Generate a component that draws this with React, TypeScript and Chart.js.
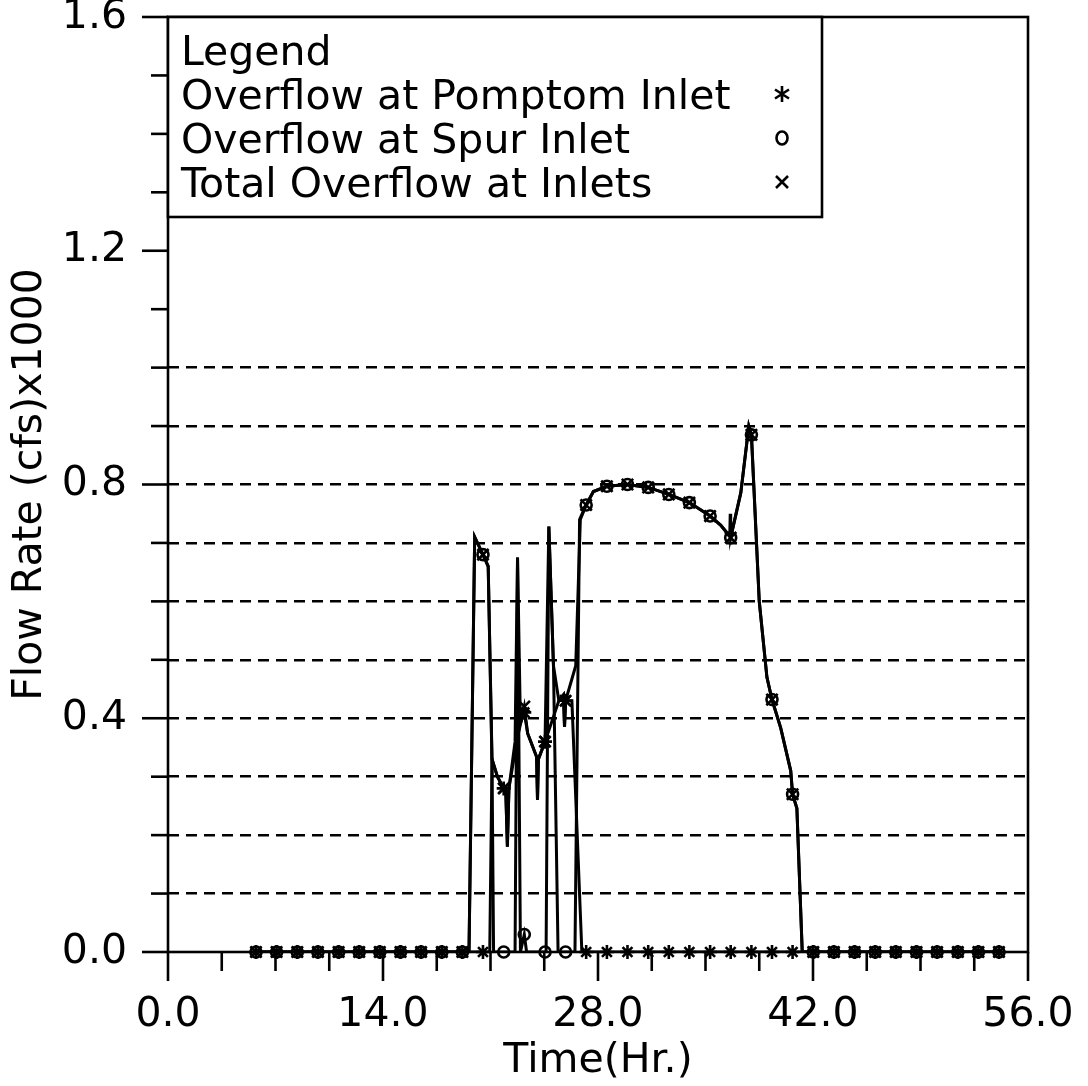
import React, { useEffect, useRef } from 'react';
import { Chart, registerables } from 'chart.js';

Chart.register(...registerables);

const FONT = '"DejaVu Sans ExtraLight", "DejaVu Sans", "Liberation Sans", sans-serif';

// Axes
const xMin = 0;
const xMax = 56;
const xStep = 3.5;
const xLabelEvery = 14;
const yMin = 0;
const yMax = 1.6;
const yStep = 0.1;
const yLabelEvery = 0.4;
const gridFrom = 0.1;
const gridTo = 1.0;
const xTitle = 'Time(Hr.)';
const yTitle = 'Flow Rate (cfs)x1000';

// Legend
const legendTitle = 'Legend';
const seriesNames = ['Overflow at Pomptom Inlet', 'Overflow at Spur Inlet', 'Total Overflow at Inlets'];

// Marker positions (hours) and marker values (cfs x1000)
const markerTimes = [5.73, 7.07, 8.42, 9.76, 11.11, 12.45, 13.79, 15.14, 16.48, 17.83, 19.17, 20.51, 21.86, 23.2, 24.55, 25.89, 27.23, 28.58, 29.92, 31.27, 32.61, 33.95, 35.3, 36.64, 37.99, 39.33, 40.67, 42.02, 43.36, 44.71, 46.05, 47.39, 48.74, 50.08, 51.43, 52.77, 54.11];
const pomptomMarkers = [0, 0, 0, 0, 0, 0, 0, 0, 0, 0, 0, 0, 0.28, 0.41, 0.36, 0.43, 0, 0, 0, 0, 0, 0, 0, 0, 0, 0, 0, 0, 0, 0, 0, 0, 0, 0, 0, 0, 0];
const spurMarkers = [0, 0, 0, 0, 0, 0, 0, 0, 0, 0, 0, 0.68, 0, 0.03, 0, 0, 0.765, 0.797, 0.8, 0.795, 0.783, 0.769, 0.746, 0.709, 0.885, 0.432, 0.27, 0, 0, 0, 0, 0, 0, 0, 0, 0, 0];
const totalMarkers = [0, 0, 0, 0, 0, 0, 0, 0, 0, 0, 0, 0.68, 0.28, 0.42, 0.36, 0.43, 0.765, 0.797, 0.8, 0.795, 0.783, 0.769, 0.746, 0.709, 0.885, 0.432, 0.27, 0, 0, 0, 0, 0, 0, 0, 0, 0, 0];

// Line vertices
const pomptomLineTimes = [5.73, 20.95, 21.1, 21.45, 21.86, 22.0, 22.1, 22.2, 22.88, 23.2, 23.42, 24.0, 24.06, 24.12, 24.55, 25.45, 25.75, 25.82, 25.89, 26.3, 26.95, 54.11];
const pomptomLineValues = [0, 0, 0.33, 0.3, 0.28, 0.27, 0.18, 0.28, 0.386, 0.41, 0.374, 0.334, 0.26, 0.33, 0.36, 0.43, 0.44, 0.385, 0.43, 0.43, 0, 0];

const spurLineTimes = [5.73, 19.6, 19.97, 20.51, 20.85, 21.1, 21.2, 22.6, 22.76, 22.95, 23.2, 23.35, 24.62, 24.8, 25.1, 25.4, 26.5, 26.8, 27.23, 27.7, 28.58, 29.92, 31.27, 32.61, 33.95, 35.3, 36.0, 36.58, 36.61, 36.64, 37.3, 37.82, 37.99, 38.5, 39.0, 39.33, 39.9, 40.55, 40.67, 40.95, 41.3, 54.11];
const spurLineValues = [0, 0, 0.71, 0.68, 0.66, 0.32, 0, 0, 0.675, 0, 0.03, 0, 0, 0.728, 0.49, 0, 0, 0.74, 0.765, 0.788, 0.797, 0.8, 0.795, 0.783, 0.769, 0.746, 0.73, 0.712, 0.75, 0.709, 0.786, 0.9, 0.885, 0.6, 0.47, 0.432, 0.383, 0.31, 0.27, 0.246, 0, 0];

const totalLineTimes = [5.73, 19.6, 19.97, 20.51, 20.85, 21.1, 21.45, 21.86, 22.0, 22.1, 22.2, 22.6, 22.76, 22.95, 23.2, 23.42, 24.0, 24.06, 24.12, 24.55, 24.8, 25.1, 25.45, 25.75, 25.82, 25.89, 26.55, 26.85, 27.23, 27.7, 28.58, 29.92, 31.27, 32.61, 33.95, 35.3, 36.0, 36.64, 37.3, 37.82, 37.99, 38.5, 39.0, 39.33, 39.9, 40.55, 40.67, 40.95, 41.3, 54.11];
const totalLineValues = [0, 0, 0.71, 0.68, 0.66, 0.33, 0.3, 0.28, 0.27, 0.18, 0.28, 0.36, 0.675, 0.39, 0.42, 0.374, 0.334, 0.26, 0.33, 0.36, 0.728, 0.49, 0.43, 0.44, 0.385, 0.43, 0.49, 0.74, 0.765, 0.788, 0.797, 0.8, 0.795, 0.783, 0.769, 0.746, 0.73, 0.709, 0.786, 0.9, 0.885, 0.6, 0.47, 0.432, 0.383, 0.31, 0.27, 0.246, 0, 0];

const toPoints = (xs: number[], ys: number[]) => xs.map((x, i) => ({ x, y: ys[i] }));
const isMultiple = (v: number, m: number) => Math.abs(v / m - Math.round(v / m)) < 1e-6;

function drawSymbol(ctx: CanvasRenderingContext2D, kind: string, cx: number, cy: number) {
  ctx.beginPath();
  if (kind === 'star') {
    ctx.moveTo(cx, cy - 8); ctx.lineTo(cx, cy + 8);
    ctx.moveTo(cx - 7, cy - 4.5); ctx.lineTo(cx + 7, cy + 4.5);
    ctx.moveTo(cx - 7, cy + 4.5); ctx.lineTo(cx + 7, cy - 4.5);
  } else if (kind === 'circle') {
    ctx.ellipse(cx, cy, 5.5, 6.5, 0, 0, Math.PI * 2);
  } else {
    ctx.moveTo(cx - 6, cy - 6); ctx.lineTo(cx + 6, cy + 6);
    ctx.moveTo(cx - 6, cy + 6); ctx.lineTo(cx + 6, cy - 6);
  }
  ctx.stroke();
}

const framePlugin = {
  id: 'frameAndLegend',
  afterDraw(chart: any) {
    const { ctx, chartArea } = chart;
    const { left, right, top, bottom } = chartArea;
    const xs = chart.scales.x;
    const ys = chart.scales.y;
    ctx.save();
    ctx.strokeStyle = '#000';
    ctx.lineWidth = 2.6;
    ctx.lineCap = 'butt';
    ctx.strokeRect(left, top, right - left, bottom - top);
    ys.ticks.forEach((t: any, i: number) => {
      const py = ys.getPixelForTick(i);
      const len = isMultiple(t.value, yLabelEvery) ? 26 : 17;
      ctx.beginPath();
      ctx.moveTo(left - len, py);
      ctx.lineTo(left, py);
      ctx.stroke();
    });
    xs.ticks.forEach((t: any, i: number) => {
      const px = xs.getPixelForTick(i);
      const len = isMultiple(t.value, xLabelEvery) ? 29 : 19;
      ctx.beginPath();
      ctx.moveTo(px, bottom);
      ctx.lineTo(px, bottom + len);
      ctx.stroke();
    });
    // Legend box
    const lx1 = 822;
    const ly1 = top + 200;
    ctx.fillStyle = '#fff';
    ctx.fillRect(left, top, lx1 - left, ly1 - top);
    ctx.strokeRect(left, top, lx1 - left, ly1 - top);
    ctx.fillStyle = '#000';
    ctx.font = `41px ${FONT}`;
    ctx.textAlign = 'left';
    ctx.textBaseline = 'alphabetic';
    const tx = left + 13;
    const lineGap = 44;
    const base0 = top + 48;
    ctx.fillText(legendTitle, tx, base0);
    const kinds = ['star', 'circle', 'cross'];
    ctx.lineWidth = 2.6;
    seriesNames.forEach((name, i) => {
      const b = base0 + lineGap * (i + 1);
      ctx.fillText(name, tx, b);
      drawSymbol(ctx, kinds[i], 782, b - 15);
    });
    ctx.restore();
  },
};

export default function App() {
  const canvasRef = useRef<HTMLCanvasElement | null>(null);

  useEffect(() => {
    document.body.style.margin = '0';
    const canvas = canvasRef.current;
    if (!canvas) return;
    const lineBase = {
      type: 'line' as const,
      borderColor: '#000',
      borderWidth: 3,
      pointRadius: 0,
      tension: 0,
      fill: false,
    };
    const markerBase = {
      type: 'line' as const,
      showLine: false,
      borderColor: '#000',
      backgroundColor: 'rgba(0,0,0,0)',
      pointBorderWidth: 2.6,
      clip: false as any,
    };
    const chart = new Chart(canvas, {
      type: 'line',
      data: {
        datasets: [
          { ...markerBase, label: seriesNames[2], data: toPoints(markerTimes, totalMarkers), pointStyle: 'crossRot', pointRadius: 8 },
          { ...markerBase, label: seriesNames[1], data: toPoints(markerTimes, spurMarkers), pointStyle: 'circle', pointRadius: 5.5 },
          { ...markerBase, label: seriesNames[0], data: toPoints(markerTimes, pomptomMarkers), pointStyle: 'star', pointRadius: 7 },
          { ...lineBase, label: seriesNames[2] + ' line', data: toPoints(totalLineTimes, totalLineValues) },
          { ...lineBase, label: seriesNames[1] + ' line', data: toPoints(spurLineTimes, spurLineValues) },
          { ...lineBase, label: seriesNames[0] + ' line', data: toPoints(pomptomLineTimes, pomptomLineValues) },
        ],
      },
      options: {
        responsive: false,
        animation: false,
        devicePixelRatio: 1,
        layout: { padding: { top: 17, right: 60, left: 0, bottom: 0 } },
        plugins: { legend: { display: false }, tooltip: { enabled: false } },
        scales: {
          x: {
            type: 'linear',
            min: xMin,
            max: xMax,
            grid: { display: false, drawTicks: false },
            border: { display: false },
            ticks: {
              stepSize: xStep,
              autoSkip: false,
              maxRotation: 0,
              minRotation: 0,
              padding: 39,
              color: '#000',
              font: { family: FONT, size: 41 },
              callback: (v: any) => (isMultiple(Number(v), xLabelEvery) ? Number(v).toFixed(1) : ''),
            },
            title: { display: true, text: xTitle, color: '#000', font: { family: FONT, size: 41 }, padding: { top: 0, bottom: 0 } },
            afterFit: (s: any) => {
              s.height = 134;
              s.paddingLeft = 0; s.paddingRight = 0; s.paddingTop = 0; s.paddingBottom = 0;
            },
          },
          y: {
            type: 'linear',
            min: yMin,
            max: yMax,
            grid: {
              drawTicks: false,
              lineWidth: 2.6,
              color: (c: any) => {
                const v = c.tick ? c.tick.value : -1;
                return v > gridFrom - 0.05 && v < gridTo + 0.05 ? '#000' : 'rgba(0,0,0,0)';
              },
            },
            border: { display: false, dash: [11, 7] },
            ticks: {
              stepSize: yStep,
              autoSkip: false,
              padding: 41,
              color: '#000',
              font: { family: FONT, size: 41 },
              callback: (v: any) => (isMultiple(Number(v), yLabelEvery) ? Number(v).toFixed(1) : ''),
            },
            title: { display: true, text: yTitle, color: '#000', font: { family: FONT, size: 41 }, padding: { top: 6, bottom: 0 } },
            afterFit: (s: any) => {
              s.width = 168;
              s.paddingLeft = 0; s.paddingRight = 0; s.paddingTop = 0; s.paddingBottom = 0;
            },
          },
        },
      },
      plugins: [framePlugin],
    } as any);
    return () => chart.destroy();
  }, []);

  return (
    <div style={{ width: 1088, height: 1086, background: '#fff' }}>
      <canvas ref={canvasRef} width={1088} height={1086} style={{ display: 'block' }} />
    </div>
  );
}
